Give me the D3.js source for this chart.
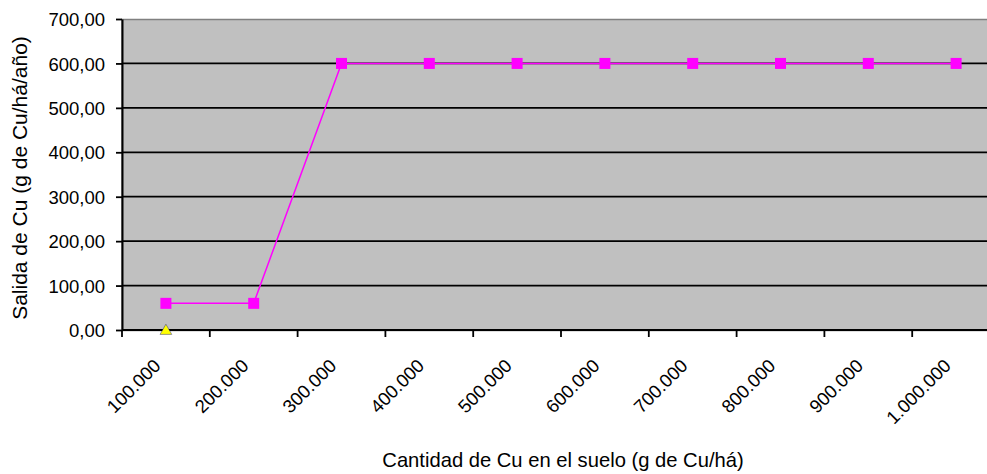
<!DOCTYPE html>
<html>
<head>
<meta charset="utf-8">
<script src="https://cdn.jsdelivr.net/npm/d3@7"></script>
<style>
  html, body { margin: 0; padding: 0; background: #fff; }
  svg { display: block; }
  text { font-family: Arial, "Liberation Sans", sans-serif; fill: #000; }
</style>
</head>
<body>
<svg id="chart" width="987" height="474"></svg>
<script>
// Soil copper content categories (g Cu/há)
const categories = ["100.000", "200.000", "300.000", "400.000", "500.000",
                    "600.000", "700.000", "800.000", "900.000", "1.000.000"];
// Copper output (g Cu/há/año)
const salida = [60, 60, 600, 600, 600, 600, 600, 600, 600, 600];
// Secondary series, only first point shown
const entrada = [0];
const yTicks = [0, 100, 200, 300, 400, 500, 600, 700];

const svg = d3.select("#chart");
const plotLeft = 122, plotTop = 19, plotRight = 1000, plotBottom = 330;
const fontSize = "18.5px";
const titleSize = "19.8px";

const x = d3.scaleBand().domain(categories).range([plotLeft, plotRight]);
const y = d3.scaleLinear().domain([0, 700]).range([plotBottom, plotTop]);
const fmt = v => d3.format(".2f")(v).replace(".", ",");

// plot area
svg.append("rect")
  .attr("x", plotLeft).attr("y", plotTop + 0.5)
  .attr("width", plotRight - plotLeft).attr("height", plotBottom - plotTop)
  .attr("fill", "#c0c0c0").attr("stroke", "#808080").attr("stroke-width", 1.5);

// horizontal gridlines
svg.append("g").selectAll("line").data(yTicks.filter(d => d > 0 && d < 700)).join("line")
  .attr("x1", plotLeft).attr("x2", plotRight)
  .attr("y1", d => y(d)).attr("y2", d => y(d))
  .attr("stroke", "#000").attr("stroke-width", 1.8);

// y axis
const yAxis = svg.append("g").attr("transform", `translate(${plotLeft},0)`)
  .call(d3.axisLeft(y).tickValues(yTicks).tickFormat(fmt).tickSize(6).tickSizeOuter(0));
yAxis.select(".domain").attr("stroke", "#000").attr("stroke-width", 2);
yAxis.selectAll(".tick line").attr("stroke", "#000").attr("stroke-width", 1.8);
yAxis.selectAll(".tick text").attr("x", -17).attr("dy", "0.36em").style("font-size", fontSize)
  .style("font-family", "Arial, 'Liberation Sans', sans-serif");

// x axis with ticks between categories
const xAxisG = svg.append("g").attr("transform", `translate(0,${plotBottom})`);
xAxisG.append("line").attr("x1", plotLeft).attr("x2", plotRight)
  .attr("stroke", "#000").attr("stroke-width", 2);
const boundaries = categories.map(c => x(c)).concat([plotRight]);
xAxisG.selectAll("line.tk").data(boundaries).join("line").attr("class", "tk")
  .attr("x1", d => d).attr("x2", d => d)
  .attr("y1", 0).attr("y2", 7).attr("stroke", "#000").attr("stroke-width", 1.8);
xAxisG.selectAll("text").data(categories).join("text")
  .attr("transform", d => `translate(${x(d) + x.bandwidth() / 2 - 4},${37}) rotate(-45)`)
  .attr("text-anchor", "end")
  .style("font-size", fontSize)
  .text(d => d);

// output series line + square markers
const cx = d => x(d) + x.bandwidth() / 2;
const line = d3.line().x((d, i) => cx(categories[i])).y(d => y(d));
svg.append("path").datum(salida)
  .attr("d", line).attr("fill", "none").attr("stroke", "#ff00ff").attr("stroke-width", 1.5);
svg.append("g").selectAll("rect").data(salida).join("rect")
  .attr("x", (d, i) => cx(categories[i]) - 5.5)
  .attr("y", d => y(d) - 5.5)
  .attr("width", 11).attr("height", 11)
  .attr("fill", "#ff00ff");

// secondary series marker (triangle)
svg.append("g").selectAll("path").data(entrada).join("path")
  .attr("transform", (d, i) => `translate(${cx(categories[i])},${y(d) + 1})`)
  .attr("d", d3.symbol(d3.symbolTriangle, 60))
  .attr("fill", "#ffff00").attr("stroke", "#000080").attr("stroke-width", 0.4);

// axis titles
svg.append("text")
  .attr("transform", `translate(27,178) rotate(-90)`)
  .attr("text-anchor", "middle")
  .style("font-size", "21px")
  .text("Salida de Cu (g de Cu/há/año)");
svg.append("text")
  .attr("x", 563).attr("y", 467)
  .attr("text-anchor", "middle")
  .style("font-size", "20.2px")
  .text("Cantidad de Cu en el suelo (g de Cu/há)");
</script>
</body>
</html>
